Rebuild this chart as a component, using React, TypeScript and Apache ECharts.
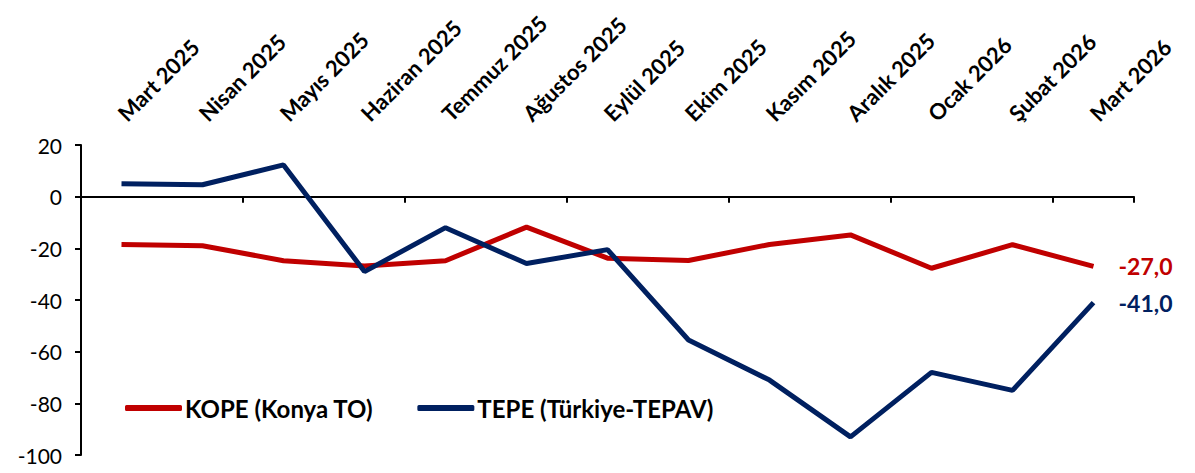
import React, { useEffect, useRef } from "react";
import * as echarts from "echarts";

const categories = [
  "Mart 2025", "Nisan 2025", "Mayıs 2025", "Haziran 2025", "Temmuz 2025", "Ağustos 2025",
  "Eylül 2025", "Ekim 2025", "Kasım 2025", "Aralık 2025", "Ocak 2026", "Şubat 2026", "Mart 2026",
];
const kope = [-18.5, -19, -24.8, -26.8, -24.8, -11.8, -23.8, -24.7, -18.5, -14.8, -27.7, -18.6, -27.0];
const tepe = [5.0, 4.6, 12.3, -29.0, -12.0, -25.9, -20.5, -55.5, -71.0, -93.0, -68.0, -75.0, -41.0];
const yTicks = { min: -100, max: 20, interval: 20 };

const FONT = "Lato";
const fmt = (v: number) => v.toFixed(1).replace(".", ",");

export default function App() {
  const ref = useRef<HTMLDivElement>(null);
  useEffect(() => {
    document.body.style.margin = "0";
    const chart = echarts.init(ref.current!, null, { renderer: "svg" });
    chart.setOption({
      animation: false,
      textStyle: { fontFamily: FONT },
      grid: { left: 81, right: 61, top: 145, bottom: 18, containLabel: false },
      legend: {
        left: 120,
        top: 391,
        itemWidth: 57,
        itemHeight: 6,
        itemGap: 44,
        icon: "roundRect",
        textStyle: { fontFamily: FONT, fontWeight: "bold", fontSize: 24, color: "#000", padding: [0, 0, 0, -2] },
        data: ["KOPE (Konya TO)", "TEPE (Türkiye-TEPAV)"],
      },
      xAxis: [
        {
          type: "category",
          data: categories,
          position: "bottom",
          axisLine: { onZero: true, lineStyle: { color: "#000", width: 2 } },
          axisTick: { show: true, length: 6, lineStyle: { color: "#000", width: 2 } },
          axisLabel: { show: false },
          splitLine: { show: false },
        },
        {
          type: "category",
          data: categories,
          position: "top",
          axisLine: { show: false },
          axisTick: { show: false },
          axisLabel: {
            show: true,
            interval: 0,
            rotate: -45,
            margin: 28,
            fontFamily: FONT,
            fontWeight: "bold",
            fontSize: 22,
            color: "#000",
          },
        },
      ],
      yAxis: {
        type: "value",
        min: yTicks.min,
        max: yTicks.max,
        interval: yTicks.interval,
        axisLine: { show: true, lineStyle: { color: "#000", width: 2 } },
        axisTick: { show: true, length: 6, lineStyle: { color: "#000", width: 2 } },
        axisLabel: { fontFamily: FONT, fontSize: 21, color: "#000", margin: 19 },
        splitLine: { show: false },
      },
      series: [
        {
          name: "KOPE (Konya TO)",
          type: "line",
          data: kope,
          xAxisIndex: 0,
          symbol: "none",
          lineStyle: { color: "#C00000", width: 5 },
          itemStyle: { color: "#C00000" },
          endLabel: {
            show: true,
            formatter: (p: any) => fmt(p.value),
            color: "#C00000",
            fontFamily: FONT,
            fontWeight: "bold",
            fontSize: 23,
            distance: 25,
          },
        },
        {
          name: "TEPE (Türkiye-TEPAV)",
          type: "line",
          data: tepe,
          xAxisIndex: 0,
          symbol: "none",
          lineStyle: { color: "#002060", width: 5 },
          itemStyle: { color: "#002060" },
          endLabel: {
            show: true,
            formatter: (p: any) => fmt(p.value),
            color: "#002060",
            fontFamily: FONT,
            fontWeight: "bold",
            fontSize: 23,
            distance: 25,
          },
        },
      ],
    });
    return () => chart.dispose();
  }, []);
  return <div ref={ref} style={{ width: 1195, height: 473 }} />;
}
